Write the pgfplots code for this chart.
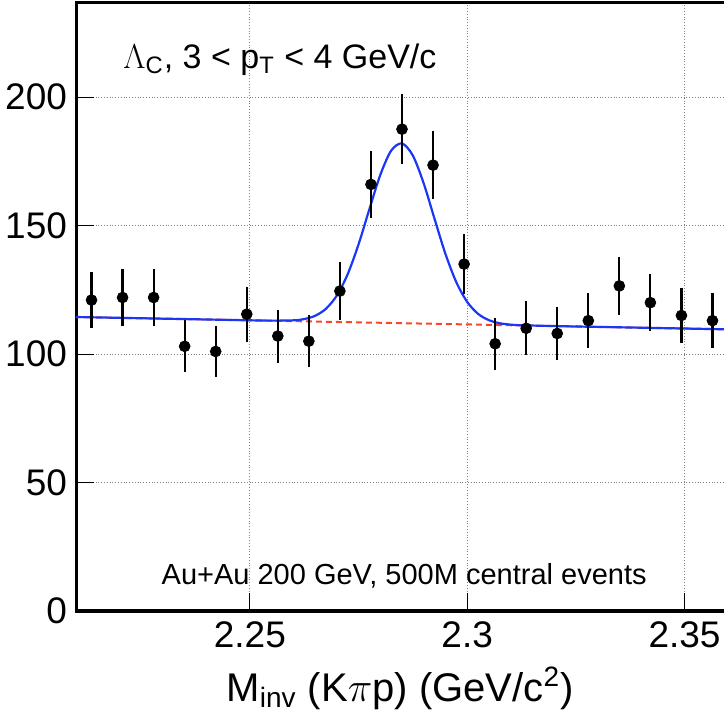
\documentclass[border=0pt]{standalone}
\usepackage{fontspec}
\setmainfont{Liberation Sans}
\usepackage{pgfplots}
\usepackage{pgfplotstable}
\pgfplotsset{compat=1.18}

\definecolor{fitblue}{RGB}{25,55,245}
\definecolor{bgred}{RGB}{250,70,40}

% Lambda_c candidates, bin centre / counts / error
\pgfplotstableread{
x       y      ey
2.21357 121.0  11.0
2.22071 122.0  11.0
2.22786 122.0  11.0
2.23500 103.0  10.1
2.24214 101.0  10.0
2.24929 115.5  10.7
2.25643 107.0  10.3
2.26357 105.0  10.2
2.27071 124.5  11.2
2.27786 166.0  12.9
2.28500 187.5  13.7
2.29214 173.5  13.2
2.29929 135.0  11.6
2.30643 104.0  10.2
2.31357 110.0  10.5
2.32071 108.0  10.4
2.32786 113.0  10.6
2.33500 126.5  11.2
2.34214 120.0  11.0
2.34929 115.0  10.7
2.35643 113.0  10.6
}\datatab

% total fit (gaus + pol1)
\pgfplotstableread{
x       y
2.2100  114.40
2.2200  114.08
2.2300  113.76
2.2400  113.44
2.2500  113.12
2.2550  112.99
2.2600  113.11
2.2625  113.60
2.2650  114.86
2.2675  117.61
2.2700  122.74
2.2725  131.05
2.2750  142.66
2.2775  156.40
2.2800  169.68
2.2825  179.13
2.2850  181.94
2.2875  177.21
2.2900  166.37
2.2925  152.52
2.2950  138.94
2.2975  127.92
2.3000  120.26
2.3025  115.63
2.3050  113.16
2.3075  111.97
2.3100  111.44
2.3125  111.19
2.3200  110.88
2.3300  110.56
2.3400  110.24
2.3500  109.92
2.3600  109.60
}\fittab

\begin{document}
\begin{tikzpicture}[x=1pt,y=1pt]
\useasboundingbox (-38,-58) rectangle (323.5,305.5);
\begin{axis}[
  at={(0,0)}, anchor=south west,
  scale only axis, width=326pt, height=304pt,
  xmin=2.21, xmax=2.36, ymin=0, ymax=236.6,
  clip=false,
  axis line style={line width=1.5pt},
  xtick={2.25,2.3,2.35}, xticklabels={2.25,2.3,2.35},
  ytick={0,50,100,150,200},
  xtick pos=bottom, ytick pos=left,
  tick align=inside, major tick length=9pt,
  tick style={black, line width=0.5pt},
  grid=major,
  major grid style={densely dotted, gray, line width=0.5pt},
  /pgf/number format/assume math mode=true,
  ticklabel style={font=\fontsize{18.5}{20}\selectfont},
  xticklabel style={yshift=-2pt},
  yticklabel style={xshift=-1pt},
]
  \addplot[bgred, densely dashed, line width=1pt] coordinates {(2.21,114.4) (2.36,109.6)};
  \addplot[fitblue, line width=1.1pt, smooth] table[x=x,y=y] {\fittab};
  \addplot[only marks, mark=*, mark size=2.7pt, black,
    error bars/.cd, y dir=both, y explicit, error mark=none,
    error bar style={line width=1.1pt, black}]
    table[x=x, y=y, y error=ey] {\datatab};

  \node[anchor=west, font=\fontsize{17}{19}\selectfont] at (axis cs:2.2193,214.5)
    {$\Lambda$\textsubscript{C}, 3 < p\textsubscript{T} < 4 GeV/c};
  \node[font=\fontsize{14.5}{16}\selectfont] at (axis cs:2.2855,13.8)
    {Au+Au 200 GeV, 500M central events};
  \node[font=\fontsize{20}{22}\selectfont] at (rel axis cs:0.497,0) [yshift=-38.5pt]
    {M\textsubscript{inv} (K$\pi$p) (GeV/c\textsuperscript{2})};
\end{axis}
\end{tikzpicture}
\end{document}
